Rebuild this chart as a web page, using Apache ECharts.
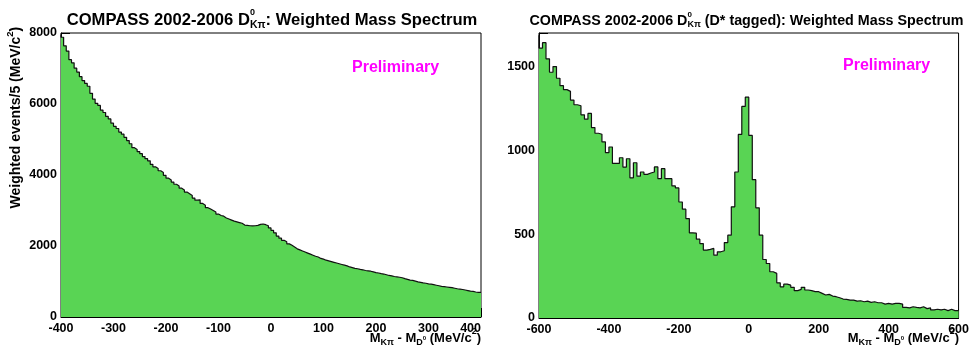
<!DOCTYPE html>
<html>
<head>
<meta charset="utf-8">
<script src="https://cdn.jsdelivr.net/npm/echarts@6/dist/echarts.min.js"></script>
<style>
  html, body { margin: 0; padding: 0; background: #fff; }
  #chart { width: 972px; height: 352px; }
</style>
</head>
<body>
<div id="chart"></div>
<script>
// left histogram: 5 MeV bins from -400 to 400
const leftRange = [-400, 400];
const leftBin = 5;
const leftCounts = [
  7960, 7880, 7640, 7490, 7250, 7160, 7010, 6900, 6770, 6660,
  6580, 6500, 6300, 6140, 6020, 5960, 5830, 5760, 5650, 5580,
  5460, 5370, 5310, 5210, 5150, 5060, 4970, 4880, 4770, 4720,
  4660, 4600, 4520, 4460, 4400, 4300, 4230, 4180, 4120, 4070,
  3990, 3910, 3860, 3800, 3740, 3690, 3630, 3580, 3520, 3470,
  3420, 3350, 3290, 3300, 3200, 3150, 3080, 3040, 3000, 2960,
  2900, 2860, 2840, 2790, 2760, 2730, 2700, 2680, 2660, 2640,
  2590, 2580, 2570, 2565, 2570, 2580, 2610, 2620, 2600, 2570,
  2510, 2440, 2370, 2280, 2220, 2160, 2120, 2060, 2020, 1970,
  1920, 1890, 1860, 1830, 1800, 1770, 1740, 1710, 1690, 1650,
  1630, 1600, 1580, 1560, 1540, 1520, 1500, 1480, 1460, 1440,
  1410, 1390, 1370, 1360, 1340, 1330, 1310, 1300, 1290, 1270,
  1250, 1240, 1220, 1210, 1190, 1170, 1160, 1140, 1130, 1120,
  1105, 1080, 1060, 1040, 1030, 1010, 990, 975, 960, 950,
  935, 925, 910, 895, 880, 865, 855, 845, 835, 825,
  810, 795, 785, 775, 760, 745, 730, 720, 705, 695
];

// right histogram (D* tagged): 10 MeV bins from -600 to 600
const rightRange = [-600, 600];
const rightBin = 10;
const rightCounts = [
  1686, 1610, 1642, 1546, 1466, 1500, 1430, 1386, 1362, 1352,
  1300, 1272, 1266, 1212, 1186, 1220, 1136, 1102, 1096, 1050,
  986, 1020, 922, 922, 956, 900, 950, 836, 926, 846,
  871, 857, 865, 871, 901, 831, 891, 831, 831, 788,
  776, 692, 649, 593, 508, 506, 470, 444, 405, 409,
  415, 375, 395, 401, 450, 494, 663, 871, 1095, 1262,
  1317, 1089, 825, 657, 494, 349, 325, 276, 266, 210,
  186, 202, 196, 183, 163, 171, 183, 167, 163, 157,
  157, 147, 137, 141, 131, 127, 121, 113, 111, 107,
  107, 101, 103, 97, 101, 93, 97, 91, 91, 83,
  87, 83, 87, 87, 83, 63, 60, 67, 63, 60,
  67, 56, 60, 48, 52, 48, 52, 44, 52, 44
];

const leftYMax = 8000;
const rightYMax = 1700;

const FONT = '"Liberation Sans", Arial, sans-serif';
const fillGreen = '#59d454';

// bin low edges + closing point at the upper edge, for step drawing
function histPoints(counts, lo, hi, w) {
  const pts = counts.map((v, i) => [lo + i * w, v]);
  pts.push([hi, counts[counts.length - 1]]);
  return pts;
}

// text with sub/superscripts as graphic pieces
const measureCtx = document.createElement('canvas').getContext('2d');
function textWidth(t, size) {
  measureCtx.font = 'bold ' + size + 'px ' + FONT;
  return measureCtx.measureText(t).width;
}
function richParts(parts, color) {
  let x = 0, pending = 0;
  const els = [];
  parts.forEach(p => {
    const w = textWidth(p.t, p.s);
    els.push({
      type: 'text', x: x, y: p.dy || 0, silent: true, z: 100,
      style: {
        text: p.t, fill: color || '#000',
        font: 'bold ' + p.s + 'px ' + FONT,
        align: 'left', verticalAlign: 'middle',
        textAlign: 'left', textVerticalAlign: 'middle'
      }
    });
    if (p.stack) {
      pending = Math.max(pending, w);
    } else {
      x += Math.max(w, pending);
      pending = 0;
    }
  });
  return { els, width: x };
}

const titleLeft = richParts([
  { t: 'COMPASS 2002-2006 D', s: 16.6 },
  { t: '0', s: 9, dy: -8, stack: true },
  { t: 'K\u03c0', s: 10.5, dy: 5 },
  { t: ': Weighted Mass Spectrum', s: 16.6 }
]);
const titleRight = richParts([
  { t: 'COMPASS 2002-2006 D', s: 14.3 },
  { t: '0', s: 8, dy: -7, stack: true },
  { t: 'K\u03c0', s: 9, dy: 3 },
  { t: ' (D* tagged): Weighted Mass Spectrum', s: 14.3 }
]);
function xName() {
  return richParts([
    { t: 'M', s: 13 },
    { t: 'K\u03c0', s: 9, dy: 4.5 },
    { t: ' - M', s: 13 },
    { t: 'D', s: 9, dy: 4.5 },
    { t: '0', s: 6, dy: 0 },
    { t: ' (MeV/c', s: 13 },
    { t: '2', s: 9, dy: -6 },
    { t: ')', s: 13 }
  ]);
}
const xNameLeft = xName();
const xNameRight = xName();
const yNameLeft = richParts([
  { t: 'Weighted events/5 (MeV/c', s: 14 },
  { t: '2', s: 9.5, dy: -6 },
  { t: ')', s: 14 }
]);

const chart = echarts.init(document.getElementById('chart'), null, { renderer: 'canvas' });

function xAxisCfg(idx, range, interval, minorSplit, maxAlign) {
  return {
    type: 'value', gridIndex: idx, min: range[0], max: range[1], interval: interval,
    axisLine: { show: true, onZero: false, lineStyle: { color: '#000', width: 1 } },
    axisTick: { show: true, inside: true, length: 9, lineStyle: { color: '#000' } },
    minorTick: { show: true, splitNumber: minorSplit, length: 4.5, lineStyle: { color: '#000' } },
    splitLine: { show: false },
    axisLabel: { color: '#000', fontFamily: FONT, fontWeight: 'bold', fontSize: 12.5, margin: 5, alignMaxLabel: maxAlign, formatter: v => String(v) }
  };
}
function yAxisCfg(idx, max, interval, minorSplit, showMax) {
  return {
    type: 'value', gridIndex: idx, min: 0, max: max, interval: interval,
    axisLine: { show: true, onZero: false, lineStyle: { color: '#000', width: 1 } },
    axisTick: { show: true, inside: true, length: 9, lineStyle: { color: '#000' } },
    minorTick: { show: true, splitNumber: minorSplit, length: 4.5, lineStyle: { color: '#000' } },
    splitLine: { show: false },
    axisLabel: { color: '#000', fontFamily: FONT, fontWeight: 'bold', fontSize: 12.5, margin: 4, showMaxLabel: showMax, formatter: v => String(v) }
  };
}
function histSeries(idx, pts) {
  return {
    type: 'line', xAxisIndex: idx, yAxisIndex: idx, data: pts,
    step: 'start', symbol: 'none', silent: true,
    lineStyle: { color: '#111', width: 1.2 },
    areaStyle: { color: fillGreen, opacity: 1, origin: 'start' },
    emphasis: { disabled: true }
  };
}

chart.setOption({
  animation: false,
  backgroundColor: '#fff',
  grid: [
    { left: 61, top: 33, width: 420, height: 284, show: true, borderColor: '#000', borderWidth: 1, backgroundColor: 'transparent' },
    { left: 539, top: 33, width: 421, height: 285, show: true, borderColor: '#000', borderWidth: 1, backgroundColor: 'transparent' }
  ],
  xAxis: [
    xAxisCfg(0, leftRange, 100, 5, 'right'),
    xAxisCfg(1, rightRange, 200, 4, null)
  ],
  yAxis: [
    yAxisCfg(0, leftYMax, 2000, 4, true),
    yAxisCfg(1, rightYMax, 500, 5, false)
  ],
  series: [
    histSeries(0, histPoints(leftCounts, leftRange[0], leftRange[1], leftBin)),
    histSeries(1, histPoints(rightCounts, rightRange[0], rightRange[1], rightBin))
  ],
  graphic: [
    { type: 'group', x: 272 - titleLeft.width / 2, y: 20.5, children: titleLeft.els },
    { type: 'group', x: 746.5 - titleRight.width / 2, y: 21.3, children: titleRight.els },
    { type: 'group', x: 481 - xNameLeft.width, y: 338, children: xNameLeft.els },
    { type: 'group', x: 959 - xNameRight.width, y: 338, children: xNameRight.els },
    { type: 'group', x: 16.5, y: 208.5, rotation: Math.PI / 2, children: yNameLeft.els },
    {
      type: 'text', x: 352, y: 68, silent: true, z: 100,
      style: { text: 'Preliminary', fill: '#ff00ff', font: 'bold 16px ' + FONT, align: 'left', verticalAlign: 'middle', textAlign: 'left', textVerticalAlign: 'middle' }
    },
    {
      type: 'text', x: 843, y: 66, silent: true, z: 100,
      style: { text: 'Preliminary', fill: '#ff00ff', font: 'bold 16px ' + FONT, align: 'left', verticalAlign: 'middle', textAlign: 'left', textVerticalAlign: 'middle' }
    }
  ]
});
</script>
</body>
</html>
